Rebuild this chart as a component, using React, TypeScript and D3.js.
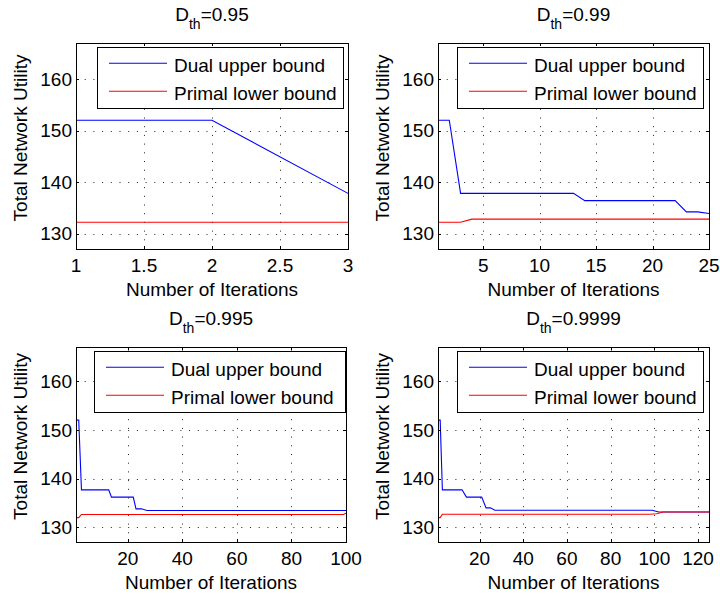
import React from 'react';
import * as d3 from 'd3';

// values: [iteration, utility]
const dual095: [number, number][] = [[1, 152], [2, 152], [3, 137.8]];
const primal095: [number, number][] = [[1, 132.2], [2, 132.2], [3, 132.2]];

const dual099: [number, number][] = [
  [1, 152], [2, 152], [3, 137.8], [13, 137.8], [14, 136.4],
  [22, 136.4], [23, 134.2], [24, 134.2], [25, 133.9],
];
const primal099: [number, number][] = [[1, 132.2], [3, 132.2], [4, 132.8], [25, 132.8]];

const dual0995: [number, number][] = [
  [1, 152], [2, 152], [3, 137.7], [13, 137.7], [14, 136.2],
  [22, 136.2], [23, 133.8], [25, 133.8], [27, 133.45], [100, 133.45],
];
const primal0995: [number, number][] = [[1, 132.0], [2, 132.0], [3, 132.65], [99, 132.65], [100, 132.9]];

const dual09999: [number, number][] = [
  [1, 152], [2, 152], [3, 137.7], [12, 137.7], [14, 136.2],
  [21, 136.2], [23, 134.0], [25, 134.0], [27, 133.5], [99, 133.5],
  [102, 133.15], [125, 133.15],
];
const primal09999: [number, number][] = [
  [1, 132.0], [2, 132.0], [3, 132.7], [98, 132.7], [101, 132.8], [104, 133.15], [125, 133.15],
];

const thresholds = ['0.95', '0.99', '0.995', '0.9999'];
const xDomains: [number, number][] = [[1, 3], [1, 25], [1, 100], [1, 125]];
const xTickSets = [
  [1, 1.5, 2, 2.5, 3],
  [5, 10, 15, 20, 25],
  [20, 40, 60, 80, 100],
  [20, 40, 60, 80, 100, 120],
];
const yTicks = [130, 140, 150, 160];
const yDomain: [number, number] = [127, 167];
const dualSeries = [dual095, dual099, dual0995, dual09999];
const primalSeries = [primal095, primal099, primal0995, primal09999];
const legendLabels = ['Dual upper bound', 'Primal lower bound'];
const seriesColors = ['#0000ff', '#ff0000'];
const xLabel = 'Number of Iterations';
const yLabel = 'Total Network Utility';

// layout of the four axes boxes
const boxes = [
  { l: 76, t: 43, r: 348, b: 249 },
  { l: 438, t: 43, r: 709, b: 249 },
  { l: 76, t: 347, r: 346, b: 542 },
  { l: 438, t: 347, r: 709, b: 542 },
];
const legends = [
  { x: 97, y: 47, w: 246 },
  { x: 457, y: 47, w: 246 },
  { x: 94, y: 351, w: 251 },
  { x: 457, y: 351, w: 246 },
];

const FONT = '"Liberation Sans", Arial, Helvetica, sans-serif';
const FS = 19;
const TICK = 3;

function Panel({ i }: { i: number }) {
  const bx = boxes[i];
  const x = d3.scaleLinear().domain(xDomains[i]).range([bx.l, bx.r]);
  const y = d3.scaleLinear().domain(yDomain).range([bx.b, bx.t]);
  const line = d3.line<[number, number]>().x(d => x(d[0])).y(d => y(d[1]));
  const lg = legends[i];
  const cx = (bx.l + bx.r) / 2;
  const cy = (bx.t + bx.b) / 2;
  const clipId = 'clip' + i;

  return (
    <g>
      <defs>
        <clipPath id={clipId}>
          <rect x={bx.l} y={bx.t} width={bx.r - bx.l + 1} height={bx.b - bx.t} />
        </clipPath>
      </defs>
      <rect x={bx.l} y={bx.t} width={bx.r - bx.l} height={bx.b - bx.t} fill="#fff" />
      {/* grid */}
      <g stroke="#222" strokeWidth={1} strokeDasharray="1,7.7" fill="none">
        {xTickSets[i].map(t => (
          <line key={'gx' + t} x1={Math.round(x(t)) + 0.5} x2={Math.round(x(t)) + 0.5} y1={bx.b} y2={bx.t} />
        ))}
        {yTicks.map(t => (
          <line key={'gy' + t} x1={bx.l} x2={bx.r} y1={Math.round(y(t)) + 0.5} y2={Math.round(y(t)) + 0.5} />
        ))}
      </g>
      {/* data */}
      <g clipPath={`url(#${clipId})`} fill="none" strokeWidth={1.1}>
        <path d={line(dualSeries[i]) || ''} stroke={seriesColors[0]} />
        <path d={line(primalSeries[i]) || ''} stroke={seriesColors[1]} />
      </g>
      {/* box + ticks */}
      <rect x={bx.l + 0.5} y={bx.t + 0.5} width={bx.r - bx.l} height={bx.b - bx.t} fill="none" stroke="#000" strokeWidth={1} />
      <g stroke="#000" strokeWidth={1}>
        {xTickSets[i].map(t => {
          const px = Math.round(x(t)) + 0.5;
          return (
            <g key={'tx' + t}>
              <line x1={px} x2={px} y1={bx.b} y2={bx.b - TICK} />
              <line x1={px} x2={px} y1={bx.t} y2={bx.t + TICK} />
            </g>
          );
        })}
        {yTicks.map(t => {
          const py = Math.round(y(t)) + 0.5;
          return (
            <g key={'ty' + t}>
              <line x1={bx.l} x2={bx.l + TICK} y1={py} y2={py} />
              <line x1={bx.r} x2={bx.r - TICK} y1={py} y2={py} />
            </g>
          );
        })}
      </g>
      {/* tick labels */}
      <g fontFamily={FONT} fontSize={FS} fill="#000">
        {xTickSets[i].map(t => (
          <text key={'lx' + t} x={x(t)} y={bx.b + 23} textAnchor="middle">{String(t)}</text>
        ))}
        {yTicks.map(t => (
          <text key={'ly' + t} x={bx.l - 4} y={y(t)} dy="0.35em" textAnchor="end">{String(t)}</text>
        ))}
        <text x={cx} y={bx.b + 47} textAnchor="middle">{xLabel}</text>
        <text transform={`translate(${bx.l - 49},${cy - 8}) rotate(-90)`} textAnchor="middle">{yLabel}</text>
        <text x={cx} y={bx.t - 22} textAnchor="middle">
          <tspan>D</tspan>
          <tspan fontSize={14} dy={8}>th</tspan>
          <tspan dy={-8}>{'=' + thresholds[i]}</tspan>
        </text>
      </g>
      {/* legend */}
      <g>
        <rect x={lg.x + 0.5} y={lg.y + 0.5} width={lg.w} height={61} fill="#fff" stroke="#000" strokeWidth={1} />
        {legendLabels.map((lab, k) => (
          <g key={lab}>
            <line x1={lg.x + 12} x2={lg.x + 70} y1={lg.y + 16.3 + k * 28} y2={lg.y + 16.3 + k * 28}
              stroke={seriesColors[k]} strokeWidth={1.1} />
            <text x={lg.x + 77} y={lg.y + 25 + k * 28} fontFamily={FONT} fontSize={FS} fill="#000">{lab}</text>
          </g>
        ))}
      </g>
    </g>
  );
}

export default function App() {
  return (
    <svg width={720} height={599} style={{ position: 'absolute', left: 0, top: 0, background: '#fff' }}>
      <rect width={720} height={599} fill="#fff" />
      {[0, 1, 2, 3].map(i => <Panel key={i} i={i} />)}
    </svg>
  );
}
